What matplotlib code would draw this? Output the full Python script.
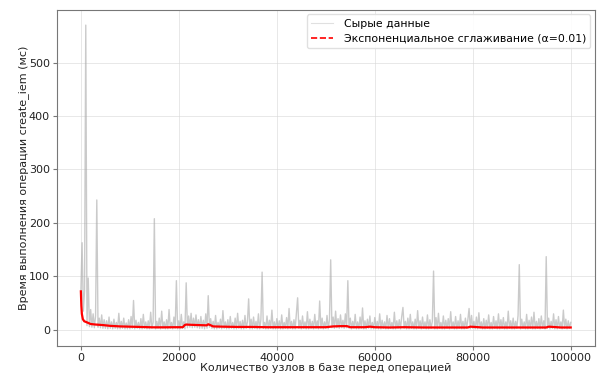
import numpy as np
import matplotlib
matplotlib.use("Agg")
import matplotlib.pyplot as plt
from matplotlib.lines import Line2D

# --- Data ---
# raw timings, one value every 250 nodes (0 .. 100000)
raw_step = 250
raw_ms = [
    72, 163, 35, 73, 570, 8, 97, 6, 38, 5, 30, 4, 26, 243, 5, 22, 4, 28, 3, 19,
    3, 17, 2, 24, 3, 15, 2, 20, 3, 14, 2, 31, 2, 16, 3, 22, 2, 13, 2, 19,
    2, 25, 3, 55, 2, 18, 3, 14, 2, 21, 2, 29, 3, 15, 2, 17, 2, 33, 3, 14,
    208, 2, 16, 3, 22, 2, 35, 3, 15, 2, 19, 2, 38, 3, 14, 2, 24, 3, 92, 2,
    17, 2, 29, 3, 15, 2, 88, 4, 26, 5, 31, 4, 22, 5, 28, 4, 19, 3, 25, 3,
    18, 2, 30, 3, 64, 5, 21, 3, 16, 2, 27, 2, 14, 3, 20, 2, 36, 3, 15, 2,
    19, 2, 25, 3, 14, 2, 22, 2, 31, 3, 16, 2, 18, 2, 27, 3, 15, 58, 2, 20,
    2, 24, 3, 16, 2, 30, 2, 19, 108, 3, 14, 2, 26, 2, 18, 3, 37, 2, 15, 2,
    21, 3, 17, 2, 28, 2, 14, 3, 23, 2, 40, 3, 16, 2, 19, 2, 32, 60, 3, 18,
    2, 26, 3, 15, 2, 34, 2, 20, 3, 16, 2, 29, 3, 17, 2, 54, 3, 22, 2, 15,
    3, 27, 2, 19, 131, 4, 24, 3, 35, 4, 21, 3, 28, 4, 18, 3, 30, 4, 92, 3,
    22, 2, 16, 3, 29, 2, 15, 2, 24, 3, 41, 2, 17, 2, 20, 3, 26, 2, 14, 2,
    23, 3, 16, 2, 30, 2, 18, 3, 15, 2, 27, 2, 21, 3, 14, 2, 33, 2, 17, 3,
    19, 2, 25, 42, 3, 16, 2, 22, 2, 29, 3, 15, 2, 20, 2, 36, 3, 17, 2, 24,
    3, 15, 2, 28, 2, 19, 3, 16, 110, 2, 23, 2, 31, 3, 14, 2, 26, 2, 18, 3,
    21, 2, 34, 3, 15, 2, 25, 2, 17, 3, 29, 2, 16, 2, 22, 3, 19, 40, 2, 27,
    3, 16, 2, 24, 2, 32, 3, 15, 2, 21, 2, 18, 3, 28, 2, 14, 2, 25, 3, 17,
    2, 30, 2, 19, 3, 23, 2, 15, 2, 35, 3, 17, 2, 22, 2, 16, 3, 27, 122, 2,
    20, 3, 15, 2, 29, 2, 18, 3, 24, 2, 33, 2, 16, 3, 21, 2, 26, 3, 17, 2,
    137, 3, 22, 2, 16, 3, 30, 2, 19, 2, 25, 3, 15, 2, 37, 3, 20, 2, 17, 3, 14,
]

# exponential smoothing (alpha=0.01), read at checkpoints
ema_nodes = [0, 100, 200, 400, 700, 1000, 1500, 2000, 3000, 4500,
             6000, 8000, 10000, 12000, 14700, 17000, 19000, 20800, 21200, 21500,
             22500, 24000, 25700, 26000, 26400, 27000, 29000, 32000, 35000, 38000,
             41000, 44000, 47000, 50000, 51500, 53000, 54300, 55000, 58000, 59000,
             60000, 63000, 66000, 70000, 74000, 79000, 79500, 82000, 86000, 90000,
             95000, 95500, 98000, 100000]
ema_ms = [72, 45, 30, 20, 16, 15, 13, 11, 10, 9,
          7.5, 6.5, 6, 5.5, 4.8, 4.8, 5, 5, 9, 10,
          9.5, 9, 8.5, 10.5, 9, 6.5, 6, 5.5, 5.5, 5,
          5, 5, 5, 5, 6.5, 7, 7, 5, 5, 6,
          5, 4.5, 5, 4.5, 4.5, 4.5, 6, 4.5, 4.5, 4.5,
          4.5, 6, 4.5, 4.5]

raw_label = "Сырые данные"
ema_label = "Экспоненциальное сглаживание (α=0.01)"
x_label = "Количество узлов в базе перед операцией"
y_label = "Время выполнения операции create_iem (мс)"

raw_nodes = np.arange(len(raw_ms)) * raw_step

# --- Plot ---
plt.rcParams['font.family'] = ['DejaVu Sans']

fig = plt.figure(figsize=(6.05, 3.76), dpi=100)
ax = fig.add_axes([0.094, 0.080, 0.889, 0.893])

ax.plot(raw_nodes, raw_ms, color='#a8a8a8', alpha=0.6, lw=1.0)
ax.plot(ema_nodes, ema_ms, color='red', lw=1.6)

ax.grid(True, color='#d8d8d8', alpha=0.7, lw=0.6)
ax.set_axisbelow(True)
for s in ax.spines.values():
    s.set_color('#777777')
    s.set_linewidth(0.8)

ax.set_xlim(-4900, 104900)
ax.set_ylim(-30, 598)
ax.set_yticks([0, 100, 200, 300, 400, 500])
ax.set_xticks([0, 20000, 40000, 60000, 80000, 100000])
ax.tick_params(labelsize=8, length=3, pad=2, color='#777777', labelcolor='#222222')

ax.set_xlabel(x_label, fontsize=8, labelpad=0, color='#222222')
ax.set_ylabel(y_label, fontsize=8, labelpad=0, color='#222222')

handles = [Line2D([], [], color='#e0e0e0', lw=0.8),
           Line2D([], [], color='red', lw=1.2, ls='--')]
leg = ax.legend(handles, [raw_label, ema_label], loc='upper right',
                fontsize=7.8, framealpha=0.9, edgecolor='#dddddd',
                borderaxespad=0.4, handletextpad=1.0, labelspacing=0.45)

fig.savefig('out.png', dpi=100)
